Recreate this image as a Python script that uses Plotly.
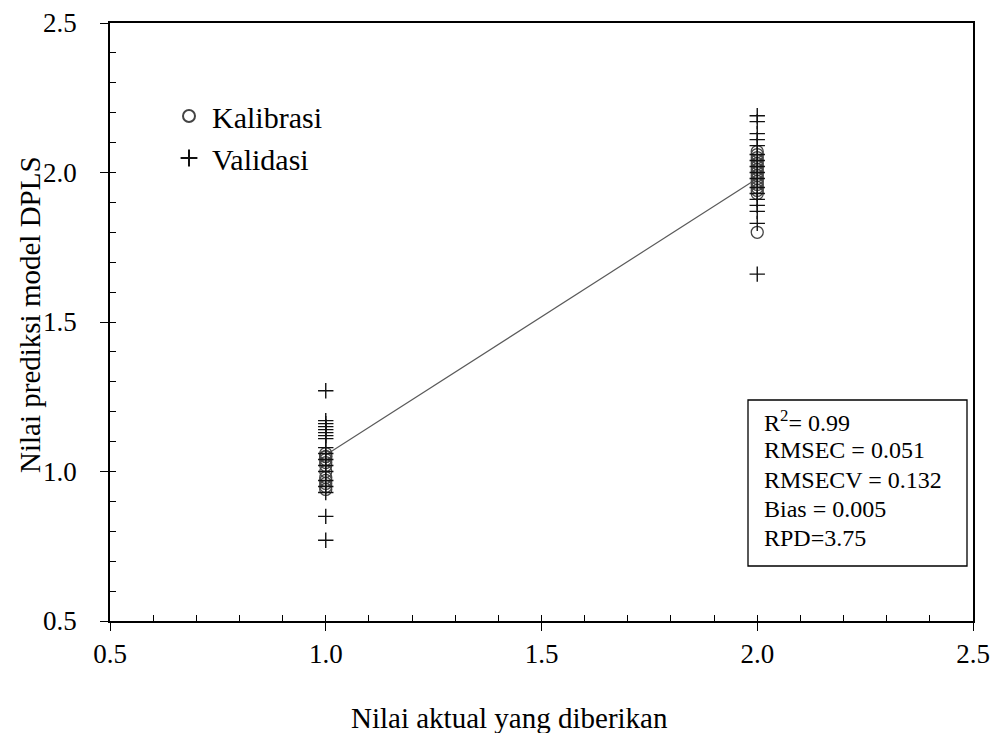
import plotly.graph_objects as go

# Measured vs. predicted values for the DPLS model
kal_actual = [1.0] * 12 + [2.0] * 16
kal_pred = [0.94, 0.95, 0.96, 0.97, 0.98, 1.00, 1.02, 1.03, 1.04, 1.05, 1.06, 1.05,
            1.80, 1.93, 1.94, 1.95, 1.96, 1.97, 1.98, 1.99, 2.00, 2.01, 2.02, 2.03,
            2.04, 2.05, 2.06, 2.07]

val_actual = [1.0] * 18 + [2.0] * 17
val_pred = [0.77, 0.85, 0.93, 0.95, 0.97, 1.00, 1.02, 1.04, 1.06, 1.08, 1.11, 1.12,
            1.13, 1.14, 1.15, 1.16, 1.17, 1.27,
            1.66, 1.83, 1.87, 1.89, 1.91, 1.93, 1.95, 1.98, 2.00, 2.02, 2.04, 2.06,
            2.09, 2.11, 2.13, 2.17, 2.19]

fit_x = [1.0, 2.0]
fit_y = [1.055, 1.98]

stats_lines = ["R<sup>2</sup>= 0.99", "RMSEC = 0.051", "RMSECV = 0.132",
               "Bias = 0.005", "RPD=3.75"]

tick_vals = [0.5, 1.0, 1.5, 2.0, 2.5]
tick_text = ["0.5", "1.0", "1.5", "2.0", "2.5"]

FONT = "Liberation Serif"

# plot-area pixel frame
L, R, T, B = 110, 973, 23, 621
W_PLOT, H_PLOT = R - L, B - T


def px_x(x):
    return (x - L) / W_PLOT


def px_y(y):
    return (B - y) / H_PLOT


fig = go.Figure()
fig.add_trace(go.Scatter(x=fit_x, y=fit_y, mode="lines",
                         line=dict(color="#5a5a5a", width=1.2), showlegend=False,
                         hoverinfo="skip"))
fig.add_trace(go.Scatter(x=kal_actual, y=kal_pred, mode="markers", name="Kalibrasi",
                         marker=dict(symbol="circle-open", size=12, color="#444444",
                                     line=dict(color="#444444", width=1.3))))
fig.add_trace(go.Scatter(x=val_actual, y=val_pred, mode="markers", name="Validasi",
                         marker=dict(symbol="cross-thin-open", size=11, color="#111111",
                                     line=dict(color="#111111", width=1.4))))

axis_common = dict(range=[0.5, 2.5], showgrid=False, zeroline=False, automargin=False,
                   showline=True, linecolor="black", linewidth=1.5, mirror=True,
                   ticks="outside", ticklen=8, tickwidth=1.3, tickcolor="black",
                   tickvals=tick_vals, ticktext=tick_text,
                   tickfont=dict(family=FONT, size=27, color="black"))

fig.update_layout(
    width=991, height=733,
    margin=dict(l=L, r=991 - R, t=T, b=733 - B, autoexpand=False),
    paper_bgcolor="white", plot_bgcolor="white",
    font=dict(family=FONT, color="black"),
    xaxis=dict(**axis_common, ticklabelstandoff=0),
    yaxis=dict(**axis_common, ticklabelstandoff=18),
    # inner minor ticks every 0.1
    xaxis2=dict(range=[0.5, 2.5], overlaying="x", side="bottom", showgrid=False,
                zeroline=False, showline=False, ticks="inside", ticklen=6,
                tickwidth=1.3, tickcolor="black", dtick=0.1, tick0=0.5,
                showticklabels=False, automargin=False),
    yaxis2=dict(range=[0.5, 2.5], overlaying="y", side="left", showgrid=False,
                zeroline=False, showline=False, ticks="inside", ticklen=6,
                tickwidth=1.3, tickcolor="black", dtick=0.1, tick0=0.5,
                showticklabels=False, automargin=False),
    legend=dict(x=px_x(166), y=px_y(90), xanchor="left", yanchor="top",
                font=dict(family=FONT, size=30, color="black"),
                bgcolor="rgba(0,0,0,0)", itemsizing="constant", itemwidth=36),
)

# empty trace on the overlay axes so they are drawn
fig.add_trace(go.Scatter(x=[None], y=[None], xaxis="x2", yaxis="y2",
                         showlegend=False, hoverinfo="skip"))

# axis titles
fig.add_annotation(text="Nilai aktual yang diberikan", xref="paper", yref="paper",
                   x=px_x(509), y=px_y(718), showarrow=False,
                   font=dict(family=FONT, size=29, color="black"),
                   xanchor="center", yanchor="middle")
fig.add_annotation(text="Nilai prediksi model DPLS", xref="paper", yref="paper",
                   x=px_x(30), y=px_y(315), showarrow=False,
                   textangle=-90, font=dict(family=FONT, size=29, color="black"),
                   xanchor="center", yanchor="middle")

# statistics box
fig.add_shape(type="rect", xref="paper", yref="paper",
              x0=px_x(748), x1=px_x(967), y0=px_y(566), y1=px_y(400),
              line=dict(color="black", width=1.3), fillcolor="white")
for i, line in enumerate(stats_lines):
    ypix = 421 + i * 29.3
    fig.add_annotation(text=line, xref="paper", yref="paper",
                       x=px_x(762), y=px_y(ypix), showarrow=False,
                       xanchor="left", yanchor="middle",
                       font=dict(family=FONT, size=24, color="black"))

fig.write_html("out.html")
